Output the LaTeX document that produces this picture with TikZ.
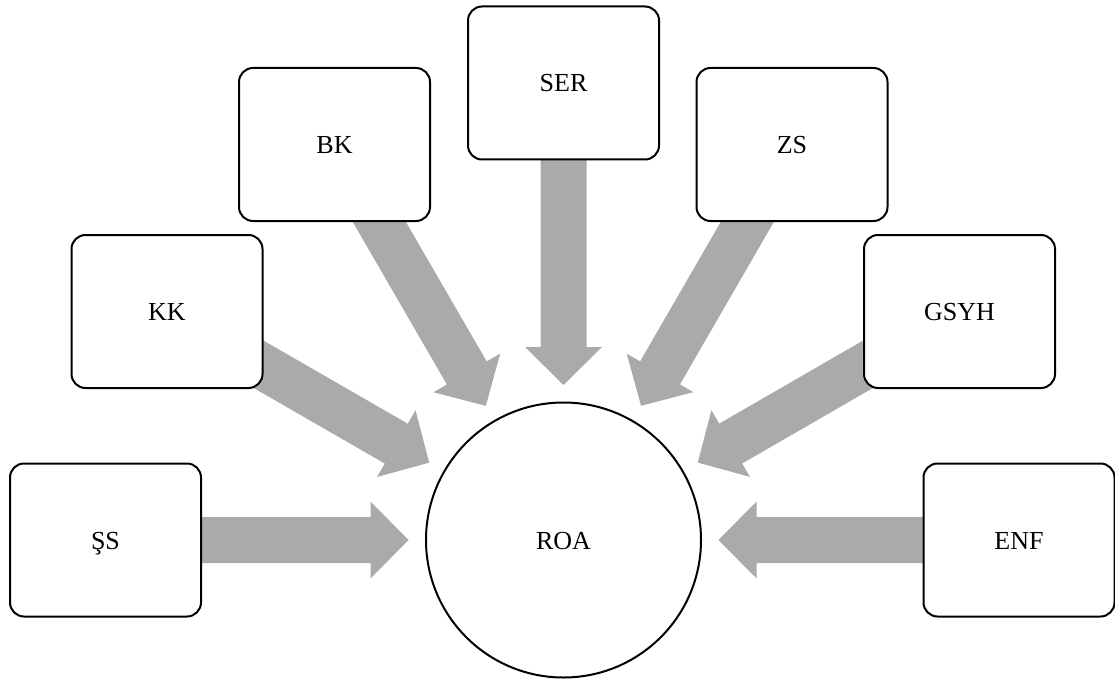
\documentclass[tikz,border=0pt]{standalone}
\usepackage{fontspec}
\setmainfont{Liberation Serif}
\usetikzlibrary{calc}
\pgfdeclarelayer{bg}
\pgfsetlayers{bg,main}
\definecolor{arrowgray}{HTML}{AAAAAA}
\tikzset{
  box/.style={draw, line width=2pt, rounded corners=14pt, fill=white,
    minimum width=191pt, minimum height=153pt, inner sep=0pt,
    text height=18pt, text depth=0pt,
    font=\fontsize{26}{31}\selectfont},
  hub/.style={draw, circle, line width=2pt, fill=white, minimum size=275pt,
    inner sep=0pt, text height=18pt, text depth=0pt,
    font=\fontsize{26}{31}\selectfont},
  flow/.style={fill=arrowgray, draw=none}
}
\newcommand\feedarrow[1]{%
  \coordinate (#1-t) at ($(roa)!155pt!(#1)$);
  \coordinate (#1-b) at ($(roa)!193pt!(#1)$);
  \fill[flow] (#1-t) -- ($(#1-b)!38.5pt!90:(#1)$) -- ($(#1-b)!23pt!90:(#1)$)
    -- ($(#1)!23pt!-90:(#1-b)$) -- ($(#1)!23pt!90:(#1-b)$)
    -- ($(#1-b)!23pt!-90:(#1)$) -- ($(#1-b)!38.5pt!-90:(#1)$) -- cycle;
}
\begin{document}
\begin{tikzpicture}[x=1pt, y=-1pt]
\useasboundingbox (0,0) rectangle (1115,679);
\node[hub] (roa) at (563.5,540) {ROA};
\node[box] (ss) at (105.5,540) {ŞS};
\node[box] (kk) at (167,311.5) {KK};
\node[box] (bk) at (334.5,144.5) {BK};
\node[box] (ser) at (563.5,83) {SER};
\node[box] (zs) at (792,144.5) {ZS};
\node[box] (gsyh) at (959.5,311.5) {GSYH};
\node[box] (enf) at (1019,540) {ENF};
\begin{pgfonlayer}{bg}
\feedarrow{ss}
\feedarrow{kk}
\feedarrow{bk}
\feedarrow{ser}
\feedarrow{zs}
\feedarrow{gsyh}
\feedarrow{enf}
\end{pgfonlayer}
\end{tikzpicture}
\end{document}
